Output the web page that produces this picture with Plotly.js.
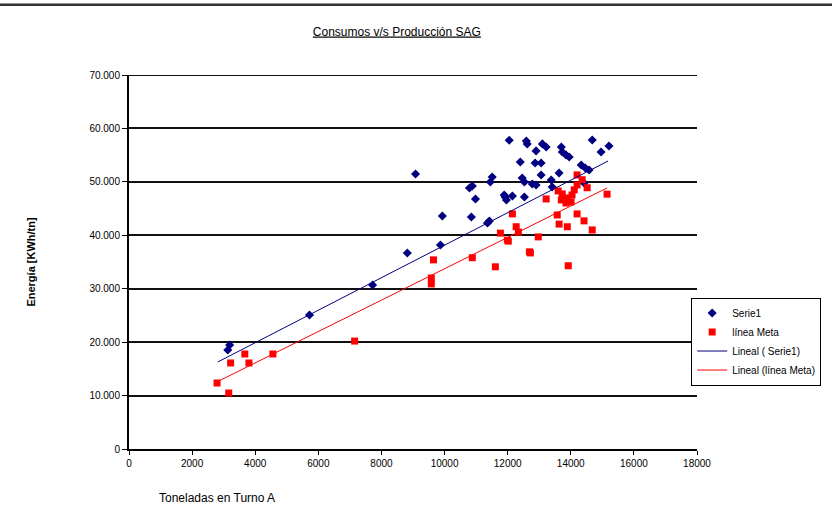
<!DOCTYPE html>
<html>
<head>
<meta charset="utf-8">
<script src="https://cdn.plot.ly/plotly-3.0.1.min.js"></script>
<style>html,body{margin:0;padding:0;background:#fff;}#chart{width:832px;height:531px;}</style>
</head>
<body>
<div id="chart"></div>
<script>
// Serie1 (toneladas, energía)
const serie1X = [3130,3190,5720,7720,8820,9080,9930,9870,10790,10880,10980,10850,11450,11510,11420,11360,
  12050,11920,11960,12590,12620,13100,13220,12900,13700,13730,13850,13950,14680,14960,15210,
  12400,12870,13060,14330,14460,14580,13060,13630,12460,12530,12780,13380,13410,11890,12150,12530,14420,12900];
const serie1Y = [18530,19470,25080,30700,36690,51480,43620,38190,48860,49230,46800,43430,49980,50920,42680,42310,
  57800,47170,46610,57660,57100,57100,56530,55790,56530,55600,55040,54660,57840,55600,56720,
  53730,53540,53540,53160,52600,52230,51290,51670,50730,49980,49610,50360,49050,47550,47360,47170,49800,49420];
// línea Meta
const metaX = [2790,3160,3220,3670,3800,4560,7150,9650,9580,9580,10880,11610,11770,11990,
  12150,12270,12340,12020,12970,12720,12690,13220,13570,13630,13890,14200,14420,14680,13920,15150,
  14200,14360,14520,13600,13730,13890,14010,14110,13850,13700,14040,14200];
const metaY = [12350,10480,16100,17780,16100,17780,20200,35400,32000,30900,35800,34100,40400,39100,
  44000,41600,40600,38900,39700,36700,36900,46800,43800,42100,41600,44000,42700,41000,34300,47700,
  51300,50400,48900,48300,47740,46990,46240,48490,46050,46610,47550,49420];
// Linear trend endpoints
const trend1X = [2815,15180];
const trend1Y = [16290,53900];
const trendMetaX = [2720,15150];
const trendMetaY = [12360,48860];
const yTicks = [0,10000,20000,30000,40000,50000,60000,70000];
const yTickText = ['0','10.000','20.000','30.000','40.000','50.000','60.000','70.000'];
const xTicks = [0,2000,4000,6000,8000,10000,12000,14000,16000,18000];

const navy = '#000080', red = '#ff0000';
const traces = [
  {x: serie1X, y: serie1Y, type:'scatter', mode:'markers', name:'Serie1',
   marker:{symbol:'diamond', size:7, color:navy}},
  {x: metaX, y: metaY, type:'scatter', mode:'markers', name:'línea Meta',
   marker:{symbol:'square', size:7, color:red}},
  {x: trend1X, y: trend1Y, type:'scatter', mode:'lines', name:'Lineal ( Serie1)',
   line:{color:navy, width:1}},
  {x: trendMetaX, y: trendMetaY, type:'scatter', mode:'lines', name:'Lineal (línea Meta)',
   line:{color:red, width:1}}
];
const ff = 'Liberation Sans, Arial, sans-serif';
const yMax = yTicks[yTicks.length - 1];
const layout = {
  width:832, height:531,
  margin:{l:129, r:134, t:75, b:82},
  paper_bgcolor:'#fff', plot_bgcolor:'#fff',
  font:{family:ff, size:10, color:'#000'},
  showlegend:true,
  title:{text:'<u>Consumos v/s Producción SAG</u>', x:0.477, xanchor:'center', y:0.941, yanchor:'middle',
    font:{family:ff, size:12, color:'#000'}},
  xaxis:{range:[0,18000], tickvals:xTicks, ticktext:xTicks.map(String), showgrid:false, zeroline:false,
    showline:true, linecolor:'#000', linewidth:2, ticks:'outside', ticklen:4, tickcolor:'#000',
    tickfont:{family:ff, size:10, color:'#000'}},
  yaxis:{range:[0,yMax], tickvals:yTicks, ticktext:yTickText, showgrid:true, gridcolor:'#111', gridwidth:2,
    zeroline:false, showline:true, linecolor:'#000', linewidth:2, ticks:'outside', ticklen:5, tickcolor:'#000',
    tickfont:{family:ff, size:10, color:'#000'},
    title:{text:'<b>Energía [KWh/tn]</b>', standoff:52, font:{family:ff, size:11, color:'#000'}}},
  legend:{x:0.988, xanchor:'left', y:0.405, yanchor:'top', bgcolor:'#fff', bordercolor:'#000', borderwidth:1,
    font:{family:ff, size:10, color:'#000'}, tracegroupgap:0},
  annotations:[{text:'Toneladas en Turno A', xref:'paper', yref:'paper', x:0.05, y:-0.13, xanchor:'left', yanchor:'middle',
    showarrow:false, font:{family:ff, size:12, color:'#000'}}],
  shapes:[
    {type:'line', xref:'paper', yref:'paper', x0:-0.23, x1:1.24, y0:1.188, y1:1.188, line:{color:'#333', width:2.5}},
    {type:'line', xref:'paper', yref:'y', x0:0, x1:1, y0:yMax, y1:yMax, line:{color:'#111', width:2}, layer:'below'}
  ]
};
Plotly.newPlot('chart', traces, layout, {displayModeBar:false, staticPlot:true});
</script>
</body>
</html>
